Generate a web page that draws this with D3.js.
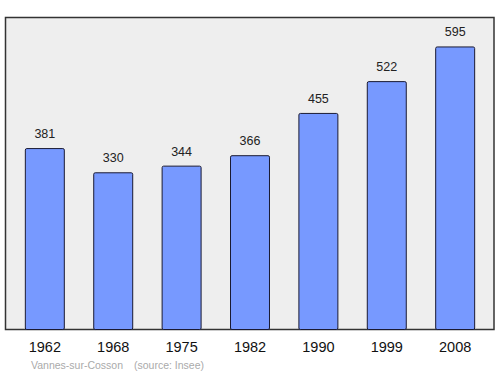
<!DOCTYPE html>
<html><head><meta charset="utf-8">
<script src="https://cdn.jsdelivr.net/npm/d3@7"></script>
<style>body{margin:0;background:#fff}svg{display:block}</style>
</head><body>
<script>
const years = ["1962","1968","1975","1982","1990","1999","2008"];
const population = [381,330,344,366,455,522,595];
const sourceText = ["Vannes-sur-Cosson", "(source: Insee)"];

const W = 500, H = 374;
const svg = d3.select("body").append("svg").attr("width", W).attr("height", H);
const pL = 5.5, pR = 494, pT = 17.5, pB = 329.5;

svg.append("rect").attr("x", pL).attr("y", pT).attr("width", pR-pL).attr("height", pB-pT)
  .attr("fill", "#eeeeee").attr("stroke", "#333").attr("stroke-width", 1.5);

const x = d3.scaleBand().domain(years).range([pL, pR + 0.5]).paddingInner(0.43).paddingOuter(0.29);
const y = d3.scaleLinear().domain([0, 657]).range([pB, pT]);

svg.selectAll(".bar").data(years).enter().append("rect")
  .attr("x", d => x(d)).attr("width", x.bandwidth())
  .attr("y", (d,i) => y(population[i])).attr("height", (d,i) => pB - y(population[i]))
  .attr("rx", 1.5)
  .attr("fill", "#7799ff").attr("stroke", "#1a1a33").attr("stroke-width", 1);

svg.selectAll(".val").data(years).enter().append("text")
  .attr("x", d => x(d) + x.bandwidth()/2).attr("y", (d,i) => y(population[i]) - 10.5)
  .attr("text-anchor", "middle").attr("font-family", "Liberation Sans, Arial, sans-serif")
  .attr("font-size", 12.5).attr("fill", "#222").text((d,i) => population[i]);

const ax = svg.append("g").attr("transform", `translate(0,${pB})`)
  .call(d3.axisBottom(x).tickSize(0).tickPadding(12));
ax.select(".domain").remove();
ax.selectAll("text").attr("font-family", "Liberation Sans, Arial, sans-serif").attr("font-size", 14.5).attr("fill", "#111");

svg.append("text").attr("x", 31).attr("y", 369).attr("font-family", "Liberation Sans, Arial, sans-serif")
  .attr("font-size", 10.5).attr("fill", "#aaa").text(sourceText[0]);
svg.append("text").attr("x", 134).attr("y", 369).attr("font-family", "Liberation Sans, Arial, sans-serif")
  .attr("font-size", 10.5).attr("fill", "#aaa").text(sourceText[1]);
</script>
</body></html>
